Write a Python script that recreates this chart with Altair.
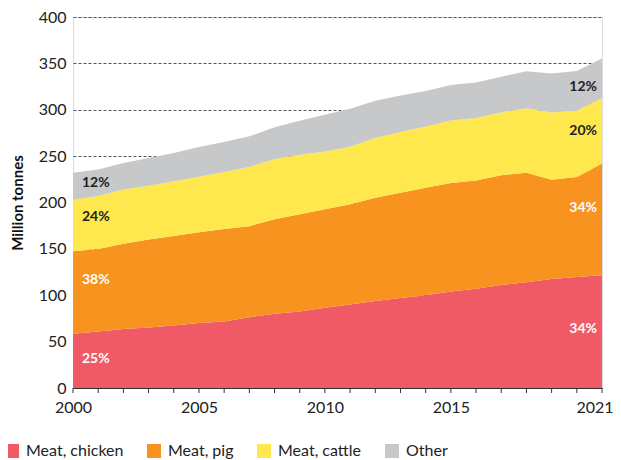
import altair as alt
import pandas as pd

years = list(range(2000, 2022))
series = ["Meat, chicken", "Meat, pig", "Meat, cattle", "Other"]
chicken = [58.6, 61.0, 63.6, 65.1, 67.5, 70.0, 71.8, 76.3, 80.0, 82.5, 86.5,
           90.0, 93.8, 97.0, 100.0, 104.0, 107.0, 111.0, 114.0, 117.5, 119.8, 121.5]
pig = [88.9, 89.0, 91.9, 94.9, 96.5, 97.8, 99.7, 98.2, 102.0, 104.8, 106.2,
       108.0, 111.2, 113.5, 115.9, 117.0, 116.7, 118.5, 118.0, 107.0, 107.7, 120.5]
cattle = [55.5, 57.0, 58.5, 58.0, 59.0, 59.9, 61.5, 63.9, 65.0, 64.3, 62.3,
          62.0, 64.5, 65.5, 66.1, 67.5, 67.3, 67.5, 69.7, 72.5, 71.5, 70.4]
other = [29.0, 28.6, 28.7, 30.0, 30.4, 32.1, 32.2, 32.9, 34.0, 36.5, 39.5,
         41.0, 40.2, 39.3, 38.3, 38.2, 38.5, 38.7, 39.7, 42.2, 42.7, 42.9]
colors = ["#F05A66", "#F7931E", "#FEE84E", "#C7C8CA"]
x_tick_labels = [2000, 2005, 2010, 2015, 2021]
y_ticks = [0, 50, 100, 150, 200, 250, 300, 350, 400]

# share labels at the first and last year
left_text = ["25%", "38%", "24%", "12%"]
left_y = [31, 116, 184.5, 221]
right_text = ["34%", "34%", "20%", "12%"]
right_y = [64, 194, 277, 324]
label_colors = ["#FFFFFF", "#FFFFFF", "#222222", "#222222"]

rows = []
for i, (name, vals) in enumerate(zip(series, [chicken, pig, cattle, other])):
    for y, v in zip(years, vals):
        rows.append({"year": y, "series": name, "value": v, "order": i})
df = pd.DataFrame(rows)

lab_left = pd.DataFrame({"year": [years[0]] * 4, "y": left_y, "text": left_text, "c": label_colors})
lab_right = pd.DataFrame({"year": [years[-1]] * 4, "y": right_y, "text": right_text, "c": label_colors})
ticks_df = pd.DataFrame({"year": years})

FONT = "Lato"
H = 371

x_scale = alt.Scale(domain=[2000, 2021], nice=False, zero=False)
y_scale = alt.Scale(domain=[0, 400], nice=False)

area = alt.Chart(df).mark_area(opacity=1).encode(
    x=alt.X("year:Q", scale=x_scale,
            axis=alt.Axis(title=None, values=x_tick_labels, format="d",
                          grid=False, domain=True, domainColor="#333333", domainWidth=1,
                          ticks=False,
                          labelAlign={"condition": {"test": "datum.value == 2021", "value": "right"},
                                      "value": "center"},
                          labelOffset={"condition": {"test": "datum.value == 2021", "value": 11},
                                       "value": 0},
                          labelFontSize=16, labelColor="#222222", labelFont=FONT,
                          labelPadding=11, labelFlush=False, labelOverlap=False)),
    y=alt.Y("value:Q", stack="zero", scale=y_scale,
            axis=alt.Axis(title="Million tonnes", values=y_ticks,
                          grid=True, gridDash=[3, 2], gridColor="#555555", gridWidth=1,
                          domain=False, ticks=False, labelFontSize=16, labelColor="#222222",
                          labelFont=FONT, labelPadding=7,
                          titleFont=FONT, titleFontSize=15, titleFontWeight="bold",
                          titleColor="#111111", titlePadding=13)),
    color=alt.Color("series:N", scale=alt.Scale(domain=series, range=colors),
                    legend=alt.Legend(title=None, orient="none", legendX=-69, legendY=426,
                                      direction="horizontal", columns=4, columnPadding=22,
                                      symbolType="square", symbolSize=196, symbolStrokeWidth=0,
                                      symbolOpacity=1, labelOffset=6, labelFontSize=16,
                                      labelFont=FONT, labelColor="#222222", padding=0)),
    order=alt.Order("order:Q", sort="ascending"),
)

# tick marks for every year along the baseline
ticks = alt.Chart(ticks_df).mark_rule(color="#333333", strokeWidth=1).encode(
    x=alt.X("year:Q", scale=x_scale),
    y=alt.value(H), y2=alt.value(H + 5))

txt_left = alt.Chart(lab_left).mark_text(align="left", baseline="middle", dx=9,
                                          fontSize=14, fontWeight="bold", font=FONT).encode(
    x=alt.X("year:Q", scale=x_scale), y=alt.Y("y:Q", scale=y_scale),
    text="text:N", color=alt.Color("c:N", scale=None))

txt_right = alt.Chart(lab_right).mark_text(align="right", baseline="middle", dx=-5,
                                            fontSize=14, fontWeight="bold", font=FONT).encode(
    x=alt.X("year:Q", scale=x_scale), y=alt.Y("y:Q", scale=y_scale),
    text="text:N", color=alt.Color("c:N", scale=None))

chart = alt.layer(area, ticks, txt_left, txt_right).properties(
    width=529, height=H,
    autosize=alt.AutoSizeParams(type="none"),
    padding={"left": 65, "top": 9, "right": 11, "bottom": 72},
).configure_view(stroke=None).configure(font=FONT)

chart.save("out.html", embed_options={"renderer": "svg", "actions": False})
